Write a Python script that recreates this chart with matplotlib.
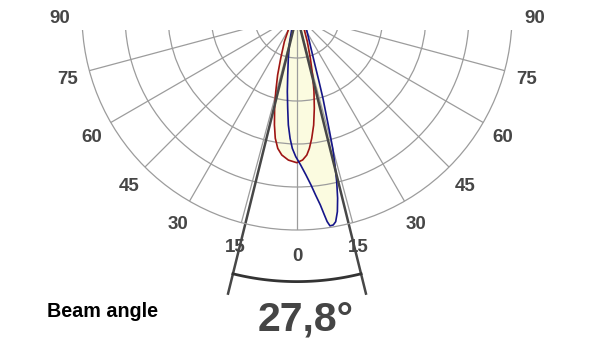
import numpy as np
import matplotlib
matplotlib.use("Agg")
import matplotlib.pyplot as plt
from matplotlib.patches import Rectangle
from matplotlib.transforms import ScaledTranslation

plt.rcParams['font.family'] = ['Liberation Sans', 'DejaVu Sans']

# Angles (deg, 0 = straight down, + = right) and relative intensity
red_angles = [-90, -50, -40, -30.0, -25.4, -20.6, -17.9, -15.5, -13.5, -11.6, -10.0, -8.2, -6.2, -3.4, -0.1,
              2.2, 4.0, 5.3, 6.8, 8.6, 10.5, 12.5, 14.6, 17.1, 21.2, 26.0, 35, 50, 90]
red_values = [0.0, 0.02, 0.04, 0.081, 0.137, 0.215, 0.293, 0.370, 0.446, 0.522, 0.582, 0.627, 0.655, 0.676, 0.687,
              0.675, 0.653, 0.623, 0.578, 0.518, 0.442, 0.365, 0.288, 0.211, 0.133, 0.078, 0.04, 0.02, 0.0]

blue_angles = [-90, -45, -30, -19.6, -15.4, -11.3, -8.8, -7.2, -5.7, -4.5, -3.2, -2.0, -0.5, 1.4, 3.2, 4.7,
               5.9, 7.0, 7.8, 8.3, 8.9, 9.8, 10.6, 11.6, 12.5, 13.4, 14.2, 15.0, 15.6, 16.3, 17.3, 18.3,
               19.8, 22.8, 32.8, 45, 60, 90]
blue_values = [0.0, 0.015, 0.04, 0.074, 0.129, 0.206, 0.282, 0.359, 0.436, 0.513, 0.575, 0.621, 0.659, 0.698, 0.745, 0.793,
               0.842, 0.890, 0.939, 0.971, 0.993, 0.991, 0.978, 0.934, 0.873, 0.797, 0.720, 0.642, 0.564, 0.485, 0.406, 0.327,
               0.247, 0.168, 0.083, 0.04, 0.015, 0.0]

grid_angles = [-90, -75, -60, -45, -30, -15, 0, 15, 30, 45, 60, 75, 90]
grid_labels = ['90', '75', '60', '45', '30', '15', '0', '15', '30', '45', '60', '75', '90']
ring_values = [0.2, 0.4, 0.6, 0.8]

beam_angle = 27.8
beam_text = "27,8°"
beam_title = "Beam angle"

fig = plt.figure(figsize=(6, 3.6), dpi=100)
# square box; the half-disc is centred vertically inside it
ax = fig.add_axes([82 / 600, 22.5 / 360, 430 / 600, 430 / 360], projection='polar')
ax.set_theta_zero_location('S')
ax.set_theta_direction(1)
ax.set_thetamin(-90)
ax.set_thetamax(90)
ax.set_rlim(0, 1.0)
ax.set_xticks(np.deg2rad(grid_angles))
ax.set_yticks(ring_values)
ax.set_xticklabels([])
ax.set_yticklabels([])
ax.tick_params(length=0)
ax.grid(True, color='#9c9c9c', linewidth=0.9)
for name, sp in ax.spines.items():
    if name == 'inner':
        sp.set_visible(False)
    else:
        sp.set_color('#9c9c9c')
        sp.set_linewidth(0.9)

rt = np.deg2rad(red_angles)
bt = np.deg2rad(blue_angles)
ax.fill(bt, blue_values, color='#fbfbe0', zorder=1)
ax.fill(rt, red_values, color='#fbfbe0', zorder=1)
ax.plot(rt, red_values, color='#9e1414', linewidth=1.2, zorder=2.2)
ax.plot(bt, blue_values, color='#15158a', linewidth=1.2, zorder=2.2)

half = np.deg2rad(beam_angle / 2)
for s in (-1, 1):
    ax.plot([s * half, s * half], [0, 1.335], color='#474747', linewidth=1.8,
            clip_on=False, zorder=2.3)
arc_t = np.linspace(-half, half, 60)
ax.plot(arc_t, np.full_like(arc_t, 1.24), color='#333333', linewidth=2.0,
        clip_on=False, zorder=2.3)

# top cut (origin of the diagram lies just above the visible area)
ax.add_patch(Rectangle((0, 330 / 360), 1, 30 / 360, transform=fig.transFigure,
                       facecolor='white', edgecolor='none', clip_on=False, zorder=2.8))

lab_tr = ax.transData + ScaledTranslation(0, -3.5 / 100, fig.dpi_scale_trans)
for a, lab in zip(grid_angles, grid_labels):
    ax.text(np.deg2rad(a), 1.105, lab, ha='center', va='center', fontsize=13.5,
            fontweight='bold', color='#464646', clip_on=False, zorder=3,
            transform=lab_tr)

fig.text(47 / 600, 1 - 317 / 360, beam_title, ha='left', va='baseline',
         fontsize=14.2, fontweight='bold', color='black')
fig.text(306 / 600, 1 - 331 / 360, beam_text, ha='center', va='baseline',
         fontsize=29.5, fontweight='bold', color='#454545')

fig.savefig('out.png', dpi=100)
